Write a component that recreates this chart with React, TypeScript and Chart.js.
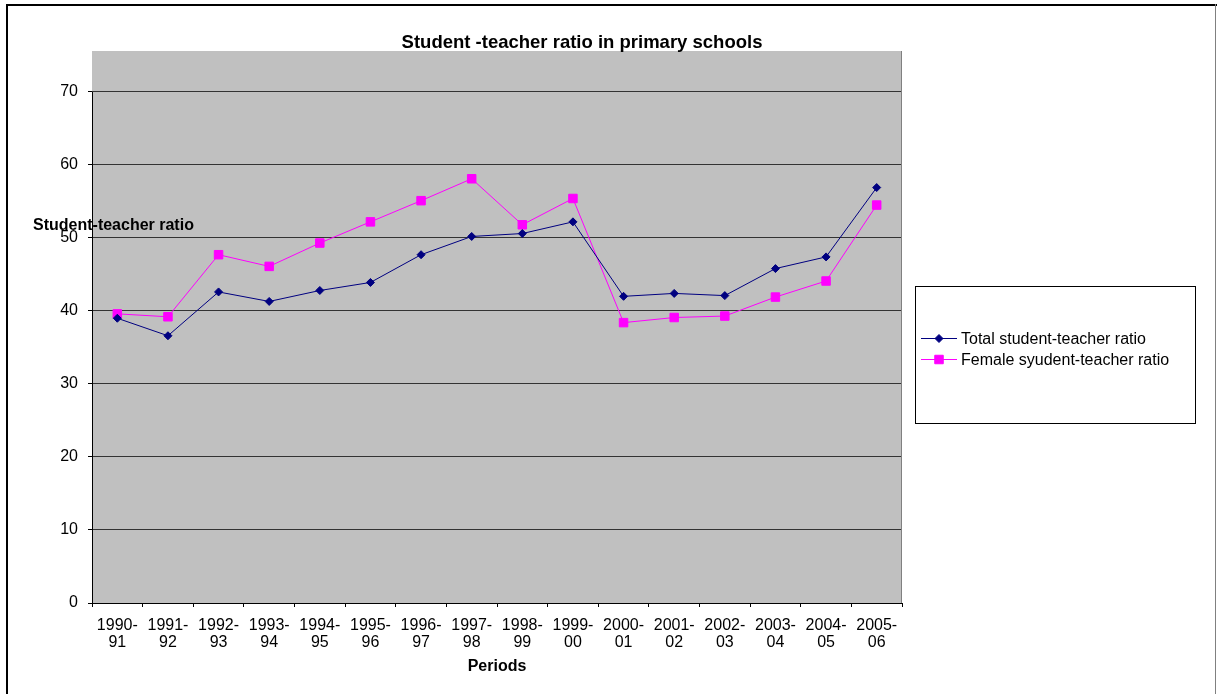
import React, { useEffect, useRef } from 'react';
import { Chart, registerables } from 'chart.js';

Chart.register(...registerables);

// School periods shown on the category axis
const periods: string[] = [
  '1990-91', '1991-92', '1992-93', '1993-94', '1994-95', '1995-96', '1996-97', '1997-98',
  '1998-99', '1999-00', '2000-01', '2001-02', '2002-03', '2003-04', '2004-05', '2005-06',
];

// Two-line tick labels, e.g. ["1990-", "91"]
const periodTickLabels: string[][] = periods.map((p) => {
  const [start, end] = p.split('-');
  return [start + '-', end];
});

const totalRatio: number[] = [
  39.0, 36.6, 42.6, 41.3, 42.8, 43.9, 47.7, 50.2, 50.6, 52.2, 42.0, 42.4, 42.1, 45.8, 47.4, 56.9,
];

const femaleRatio: number[] = [
  39.6, 39.2, 47.7, 46.1, 49.3, 52.2, 55.1, 58.1, 51.8, 55.4, 38.4, 39.1, 39.3, 41.9, 44.1, 54.5,
];

const seriesNames: string[] = ['Total student-teacher ratio', 'Female syudent-teacher ratio'];

const yTickValues: number[] = [0, 10, 20, 30, 40, 50, 60, 70];
const yAxisMax = 75.6;

const chartTitle = 'Student -teacher ratio in primary schools';
const yAxisTitle = 'Student-teacher ratio';
const xAxisTitle = 'Periods';

const FONT = '"Liberation Sans", Arial, sans-serif';
const NAVY = '#000080';
const MAGENTA = '#FF00FF';

function drawMarker(ctx: CanvasRenderingContext2D, style: string, x: number, y: number, color: string) {
  ctx.save();
  ctx.fillStyle = color;
  ctx.strokeStyle = color;
  ctx.lineWidth = 1;
  ctx.beginPath();
  if (style === 'rectRot') {
    const r = 4;
    ctx.moveTo(x - r, y);
    ctx.lineTo(x, y - r);
    ctx.lineTo(x + r, y);
    ctx.lineTo(x, y + r);
    ctx.closePath();
  } else {
    const s = 4.25;
    ctx.rect(x - s, y - s, 2 * s, 2 * s);
  }
  ctx.fill();
  ctx.stroke();
  ctx.restore();
}

const decorPlugin = {
  id: 'decor',
  beforeDraw(chart: any) {
    const { ctx, chartArea: a } = chart;
    ctx.save();
    // plot area fill
    ctx.fillStyle = '#C0C0C0';
    ctx.fillRect(a.left, a.top, a.right - a.left, a.bottom - a.top);
    // outer chart frame
    ctx.fillStyle = '#000';
    ctx.fillRect(6, 4, chart.width - 6, 2);
    ctx.fillRect(6, 4, 2, chart.height - 4);
    ctx.fillStyle = '#808080';
    ctx.fillRect(chart.width - 2, 4, 1, chart.height - 4);
    ctx.restore();
  },
  beforeDatasetsDraw(chart: any) {
    const { ctx, chartArea: a, scales } = chart;
    const y = scales.y;
    ctx.save();
    // value axis line spans only the labelled range
    ctx.strokeStyle = '#000';
    ctx.lineWidth = 1;
    ctx.beginPath();
    ctx.moveTo(a.left + 0.5, Math.round(y.getPixelForValue(yTickValues[yTickValues.length - 1])));
    ctx.lineTo(a.left + 0.5, a.bottom);
    ctx.stroke();
    // right edge of plot area
    ctx.strokeStyle = '#808080';
    ctx.beginPath();
    ctx.moveTo(a.right - 0.5, a.top);
    ctx.lineTo(a.right - 0.5, a.bottom);
    ctx.stroke();
    ctx.restore();
  },
  afterDraw(chart: any) {
    const { ctx, chartArea: a } = chart;
    ctx.save();
    ctx.fillStyle = '#000';
    ctx.textBaseline = 'alphabetic';

    // chart title
    ctx.font = `bold 18.5px ${FONT}`;
    ctx.textAlign = 'center';
    ctx.fillText(chartTitle, 582, 48);

    // value axis title (horizontal)
    ctx.font = `bold 16px ${FONT}`;
    ctx.textAlign = 'left';
    ctx.fillText(yAxisTitle, 33, 230);

    // category axis title
    ctx.textAlign = 'center';
    ctx.fillText(xAxisTitle, (a.left + a.right) / 2, 671);

    // legend box
    const boxX = 915.5;
    const boxY = 286.5;
    ctx.strokeStyle = '#000';
    ctx.lineWidth = 1;
    ctx.strokeRect(boxX, boxY, 280, 137);

    ctx.font = `16px ${FONT}`;
    ctx.textAlign = 'left';
    chart.data.datasets.forEach((ds: any, i: number) => {
      const ly = 338.5 + i * 21;
      ctx.strokeStyle = ds.borderColor;
      ctx.lineWidth = 1;
      ctx.beginPath();
      ctx.moveTo(921, ly);
      ctx.lineTo(957, ly);
      ctx.stroke();
      drawMarker(ctx, ds.pointStyle, 939, ly, ds.borderColor);
      ctx.fillStyle = '#000';
      ctx.fillText(ds.label, 961, 344 + i * 21);
    });
    ctx.restore();
  },
};

export default function App() {
  const canvasRef = useRef<HTMLCanvasElement | null>(null);

  useEffect(() => {
    if (!canvasRef.current) return;
    const chart = new Chart(canvasRef.current, {
      type: 'line',
      data: {
        labels: periodTickLabels,
        datasets: [
          {
            label: seriesNames[0],
            data: totalRatio,
            borderColor: NAVY,
            backgroundColor: NAVY,
            borderWidth: 1,
            pointStyle: 'rectRot',
            pointRadius: 4,
            pointBorderWidth: 1,
            pointBackgroundColor: NAVY,
            pointBorderColor: NAVY,
            tension: 0,
            fill: false,
          },
          {
            label: seriesNames[1],
            data: femaleRatio,
            borderColor: MAGENTA,
            backgroundColor: MAGENTA,
            borderWidth: 1,
            pointStyle: 'rect',
            pointRadius: 6,
            pointBorderWidth: 1,
            pointBackgroundColor: MAGENTA,
            pointBorderColor: MAGENTA,
            tension: 0,
            fill: false,
          },
        ],
      },
      options: {
        responsive: false,
        animation: false,
        events: [],
        layout: { padding: { top: 51, right: 315, bottom: 0, left: 0 } },
        plugins: {
          legend: { display: false },
          title: { display: false },
          tooltip: { enabled: false },
        },
        scales: {
          x: {
            type: 'category',
            offset: true,
            grid: {
              offset: true,
              drawOnChartArea: false,
              drawTicks: true,
              tickLength: 4,
              color: '#000',
              tickColor: '#000',
            },
            border: { display: true, color: '#000', width: 1 },
            ticks: {
              autoSkip: false,
              maxRotation: 0,
              minRotation: 0,
              padding: 10,
              color: '#000',
              font: { family: FONT, size: 16, lineHeight: 1.05 },
            },
            afterFit(scale: any) {
              scale.height = 91;
            },
          },
          y: {
            type: 'linear',
            min: 0,
            max: yAxisMax,
            bounds: 'data',
            grid: {
              color: '#333333',
              tickColor: '#000',
              tickLength: 4,
              lineWidth: 1,
            },
            border: { display: false },
            ticks: {
              stepSize: 10,
              includeBounds: false,
              padding: 10,
              color: '#000',
              font: { family: FONT, size: 16 },
              callback: (v: any) => (yTickValues.includes(Number(v)) ? String(v) : ''),
            },
            afterFit(scale: any) {
              scale.width = 92;
            },
          },
        },
      },
      plugins: [decorPlugin],
    });
    return () => chart.destroy();
  }, []);

  return (
    <div style={{ position: 'absolute', left: 0, top: 0, width: 1217, height: 694, background: '#fff' }}>
      <canvas ref={canvasRef} width={1217} height={694} style={{ display: 'block' }} />
    </div>
  );
}
